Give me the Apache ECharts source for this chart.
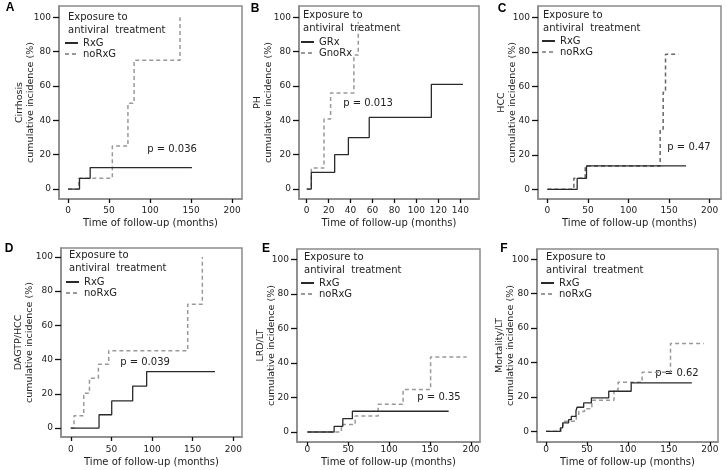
<!DOCTYPE html>
<html>
<head>
<meta charset="utf-8">
<script src="https://cdn.jsdelivr.net/npm/echarts@6/dist/echarts.min.js"></script>
<style>
  html, body { margin: 0; padding: 0; background: #fff; }
  #chart { width: 726px; height: 470px; }
</style>
</head>
<body>
<div id="chart"></div>
<script>
// tick labels
const yTicks = [0, 20, 40, 60, 80, 100];
const xTicks = [0, 50, 100, 150, 200];
const xTicksB = [0, 20, 40, 60, 80, 100, 120, 140];

// A: Cirrhosis
const aRxgT = [0, 14, 27, 151];
const aRxgV = [0, 6.25, 12.5, 12.5];
const aNoT = [0, 13, 54, 73, 80.5, 136.5];
const aNoV = [0, 6.25, 25, 50, 75, 100];

// B: PH
const bRxT = [0, 4.2, 25.5, 38, 57, 113.6, 142.4];
const bRxV = [0, 9.7, 20, 30, 41.7, 61, 61];
const bNoT = [0, 4.2, 15.8, 21.8, 43, 47];
const bNoV = [0, 12.2, 40.8, 56, 78, 97.5];

// C: HCC
const cRxgT = [0, 36.7, 48.2, 171];
const cRxgV = [0, 6.4, 13.6, 13.6];
const cNoT = [0, 32.6, 46.6, 139, 142.7, 145.6, 161.6];
const cNoV = [0, 6.4, 13.6, 34.9, 56.5, 78.6, 78.6];

// D: DAGTP/HCC
const dRxgT = [0, 34.8, 50.4, 76.2, 93.4, 177.5];
const dRxgV = [0, 7.8, 15.9, 24.5, 33, 33];
const dNoT = [0, 4, 16, 23, 34, 46.7, 143.9, 161.9];
const dNoV = [0, 7.2, 20.4, 29.1, 37.3, 45.2, 72.4, 100];

// E: LRD/LT
const eRxgT = [0, 32.7, 43.3, 55, 172.7];
const eRxgV = [0, 3.3, 7.7, 12, 12];
const eNoT = [0, 41.6, 58.4, 86.5, 117, 150.6, 194.7];
const eNoV = [0, 4.3, 9.3, 16, 24.6, 43.5, 43.5];

// F: Mortality/LT
const fRxgT = [0, 17.5, 20.3, 27.6, 30.9, 36.6, 37.9, 46, 55.4, 76.6, 104, 178];
const fRxgV = [0, 2, 4.9, 6.8, 8.7, 12, 14, 16.5, 19.5, 23.3, 28.2, 28.2];
const fNoT = [0, 18.5, 21, 37, 40, 47, 56, 83, 88, 117.3, 152, 192.7];
const fNoV = [0, 2.9, 5.8, 8.7, 11.5, 13.2, 18, 24, 28.5, 34.4, 51.1, 51.1];

const zip = (t, v) => t.map((x, i) => [x, v[i]]);

const font = 'DejaVu Sans, sans-serif';
const solid = '#2a2a2a';
const dash = '#999';
const frame = '#8a8a8a';

// frames: [left, top, width, height]; xm = x label margin, xg = x name gap, yg = y name gap
const panels = [
  {grid: [59, 6, 183, 193], x: [-11, 212], y: [-5.8, 106.6], ticks: xTicks, yname: 'Cirrhosis',
   xm: 7, xg: 19, yg: 23, s: [['RxG', aRxgT, aRxgV], ['noRxG', aNoT, aNoV]], dashColor: dash},
  {grid: [299, 6, 180, 193], x: [-7, 157], y: [-5.8, 106.6], ticks: xTicksB, yname: 'PH',
   xm: 7, xg: 19, yg: 25, s: [['GRx', bRxT, bRxV], ['GnoRx', bNoT, bNoV]], dashColor: dash},
  {grid: [538, 6, 183, 193], x: [-11.6, 214], y: [-5.6, 106.6], ticks: xTicks, yname: 'HCC',
   xm: 7, xg: 19, yg: 20, s: [['RxG', cRxgT, cRxgV], ['noRxG', cNoT, cNoV]], dashColor: '#666'},
  {grid: [61, 248, 181, 189], x: [-12, 210.7], y: [-5.2, 105.2], ticks: xTicks, yname: 'DAGTP/HCC',
   xm: 8, xg: 20, yg: 26, s: [['RxG', dRxgT, dRxgV], ['noRxG', dNoT, dNoV]], dashColor: dash},
  {grid: [297, 249, 183, 193], x: [-12.7, 211], y: [-5.8, 106], ticks: xTicks, yname: 'LRD/LT',
   xm: 3, xg: 15, yg: 20, s: [['RxG', eRxgT, eRxgV], ['noRxG', eNoT, eNoV]], dashColor: dash},
  {grid: [537, 249, 181, 193], x: [-11, 210], y: [-6.2, 106], ticks: xTicks, yname: 'Mortality/LT',
   xm: 3, xg: 15, yg: 21, s: [['RxG', fRxgT, fRxgV], ['noRxG', fNoT, fNoV]], dashColor: dash}
];

// text placed around each panel
const letters = [['A', 10, 8], ['B', 255, 9], ['C', 502, 9], ['D', 9, 249], ['E', 266, 249], ['F', 504, 249]];
const pvals = [['p = 0.036', 172, 149], ['p = 0.013', 368, 103], ['p = 0.47', 689, 147],
               ['p = 0.039', 145, 362], ['p = 0.35', 439, 397], ['p = 0.62', 677, 373]];
const legendTitles = [[68, 17], [303, 15], [543, 15], [69, 255], [304, 257], [546, 257]];
const legendPos = [[64, 38], [300, 37], [541, 36], [65, 277], [300, 278], [540, 278]];

const grids = [], xAxes = [], yAxes = [], series = [], legends = [], graphic = [];

panels.forEach((p, i) => {
  grids.push({
    left: p.grid[0], top: p.grid[1], width: p.grid[2], height: p.grid[3],
    show: true, borderColor: frame, borderWidth: 1.5
  });
  xAxes.push({
    type: 'value', gridIndex: i, min: p.x[0], max: p.x[1],
    name: 'Time of follow-up (months)', nameLocation: 'middle', nameGap: p.xg, nameMoveOverlap: false,
    nameTextStyle: {fontFamily: font, fontSize: 10, color: '#222', verticalAlign: 'top'},
    axisLine: {show: true, onZero: false, lineStyle: {color: frame, width: 1.5}},
    axisTick: {show: true, length: 4, customValues: p.ticks, lineStyle: {color: '#111', width: 1.3}},
    axisLabel: {customValues: p.ticks, fontFamily: font, fontSize: 9, color: '#222', margin: p.xm},
    splitLine: {show: false}
  });
  yAxes.push({
    type: 'value', gridIndex: i, min: p.y[0], max: p.y[1],
    name: p.yname + '\ncumulative incidence (%)', nameLocation: 'middle', nameGap: p.yg, nameMoveOverlap: false,
    nameTextStyle: {fontFamily: font, fontSize: 9.5, color: '#222', lineHeight: 11},
    axisLine: {show: true, onZero: false, lineStyle: {color: frame, width: 1.5}},
    axisTick: {show: true, length: 6, customValues: yTicks, lineStyle: {color: '#111', width: 1.3}},
    axisLabel: {customValues: yTicks, fontFamily: font, fontSize: 9, color: '#222', margin: 8},
    splitLine: {show: false}
  });
  series.push({
    name: p.s[0][0], type: 'line', xAxisIndex: i, yAxisIndex: i, step: 'end',
    symbol: 'none', data: zip(p.s[0][1], p.s[0][2]),
    lineStyle: {color: solid, width: 1.3}, itemStyle: {color: solid}, z: 3
  });
  series.push({
    name: p.s[1][0], type: 'line', xAxisIndex: i, yAxisIndex: i, step: 'end',
    symbol: 'none', data: zip(p.s[1][1], p.s[1][2]),
    lineStyle: {color: p.dashColor, width: 1.5, type: [4, 3]}, itemStyle: {color: p.dashColor}, z: 2
  });
  legends.push({
    orient: 'vertical', left: legendPos[i][0], top: legendPos[i][1], padding: 0,
    data: [p.s[0][0], p.s[1][0]], itemWidth: 13, itemHeight: 8, itemGap: 1,
    selectedMode: false, itemStyle: {opacity: 0},
    textStyle: {fontFamily: font, fontSize: 10, color: '#222', lineHeight: 9}
  });
  graphic.push({
    type: 'text', left: legendTitles[i][0], top: legendTitles[i][1] - 6,
    style: {text: 'Exposure to\nantiviral  treatment', font: '10px ' + font, fill: '#222', lineHeight: 13}
  });
});

letters.forEach(l => graphic.push({
  type: 'text', x: l[1], y: l[2],
  style: {text: l[0], font: 'bold 12px Liberation Sans, Arial, sans-serif', fill: '#000',
          align: 'center', verticalAlign: 'middle'}
}));
pvals.forEach(v => graphic.push({
  type: 'text', x: v[1], y: v[2],
  style: {text: v[0], font: '10px ' + font, fill: '#222', align: 'center', verticalAlign: 'middle'}
}));

const chart = echarts.init(document.getElementById('chart'));
chart.setOption({
  animation: false,
  grid: grids,
  xAxis: xAxes,
  yAxis: yAxes,
  legend: legends,
  series: series,
  graphic: graphic
});
</script>
</body>
</html>
